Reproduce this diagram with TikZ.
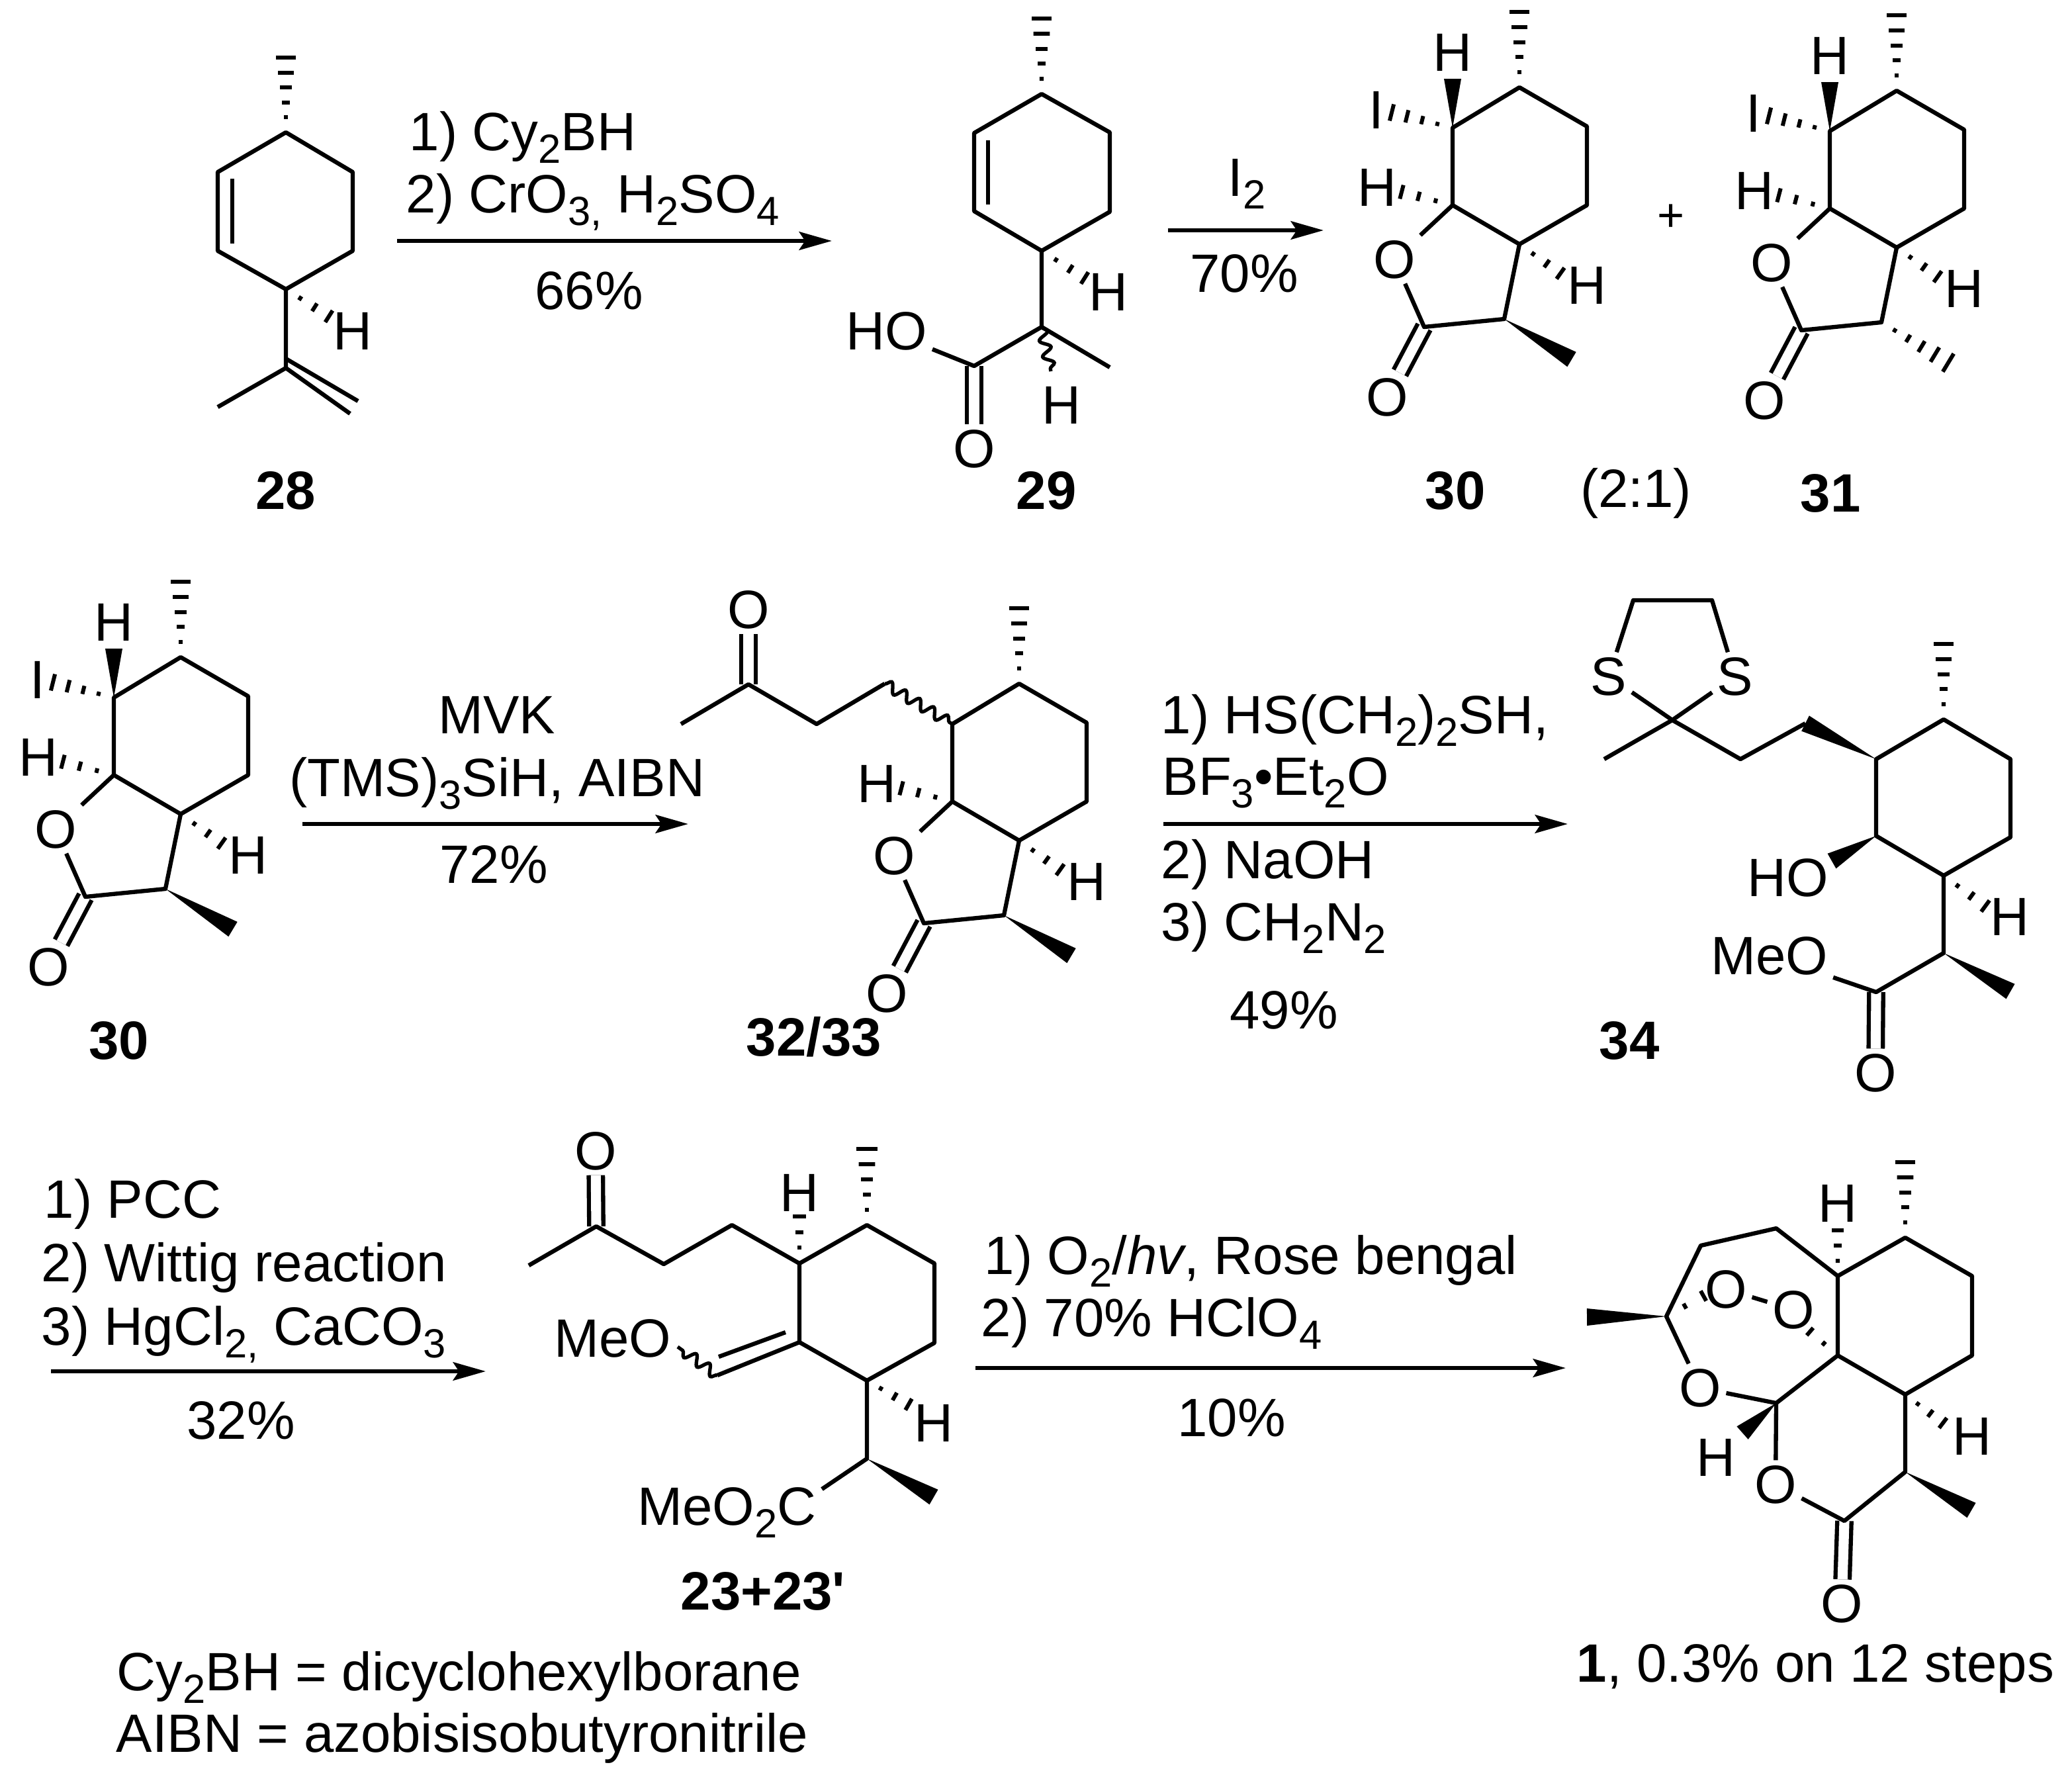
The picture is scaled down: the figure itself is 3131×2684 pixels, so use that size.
\documentclass[tikz,border=0pt]{standalone}
\usepackage{fontspec}
\setmainfont{Liberation Sans}
\usetikzlibrary{calc,arrows.meta,decorations.pathmorphing}
\newcommand{\chemsub}[1]{\raisebox{-5.5pt}{\fontsize{17.5}{17.5}\selectfont #1}}
\newcommand{\hashbond}[3]{\foreach \k in {1,...,#3}{\pgfmathsetmacro{\hf}{\k/#3}
    \draw[hashline] ($(#1)!\hf!(#2)!0.135!90:(#1)$) -- ($(#1)!\hf!(#2)!0.135!-90:(#1)$);}}
\newcommand{\wedgebond}[2]{\fill (#1) -- ($(#2)!3.7pt!90:(#1)$) -- ($(#2)!3.7pt!-90:(#1)$) -- cycle;}
\begin{document}
\begin{tikzpicture}[
    x=0.01cm, y=-0.01cm,
    every node/.style={inner sep=0pt, font=\fontsize{23.2}{27}\selectfont},
    bond/.style={line width=1.8pt, line join=round},
    dbl/.style={bond, double, double distance=4.3pt},
    wavy/.style={line width=1.5pt, decorate, decoration={snake, amplitude=2.2pt, segment length=7pt}},
    hashline/.style={line width=1.7pt},
    rxn/.style={line width=1.9pt, -{Stealth[length=14pt, width=7.8pt, inset=2.5pt]}},
    atom/.style={inner sep=2pt},
    txt/.style={anchor=base west},
    mid/.style={anchor=base},
    cmpd/.style={font=\fontsize{23.2}{27}\selectfont\bfseries}
]
    \useasboundingbox (0,0) rectangle (3131,2684);

    % Arrows
    \foreach \n/\xa/\ya/\xb/\yb in {r1/600/364/1257/364, r2/1765/348/2000/348, r3/457/1245/1040/1245,
        r4/1758/1245/2369/1245, r5/77/2072/734/2072, r6/1474/2067/2366/2067}{
        \coordinate (\n s) at (\xa,\ya);
        \coordinate (\n e) at (\xb,\yb);
        \draw[rxn] (\n s) -- (\n e);
    }

    % Conditions, first row
    \node[txt] (c1a) at (618,227) {1) Cy\chemsub{2}BH};
    \node[txt] (c1b) at (613,321) {2) CrO\chemsub{3,} H\chemsub{2}SO\chemsub{4}};
    \node[mid] (c1c) at (890,467) {66\%};
    \node[txt] (c2a) at (1855,296) {I\chemsub{2}};
    \node[mid] (c2b) at (1880,441) {70\%};

    % Conditions, second row
    \node[mid] (c3a) at (751,1108) {MVK};
    \node[mid] (c3b) at (751,1203) {(TMS)\chemsub{3}SiH, AIBN};
    \node[mid] (c3c) at (746,1334) {72\%};
    \node[txt] (c4a) at (1754,1108) {1) HS(CH\chemsub{2})\chemsub{2}SH,};
    \node[txt] (c4b) at (1756,1201) {BF\chemsub{3}•Et\chemsub{2}O};
    \node[txt] (c4c) at (1754,1327) {2) NaOH};
    \node[txt] (c4d) at (1754,1421) {3) CH\chemsub{2}N\chemsub{2}};
    \node[mid] (c4e) at (1940,1554) {49\%};

    % Conditions, third row
    \node[txt] (c5a) at (66,1840) {1) PCC};
    \node[txt] (c5b) at (62,1936) {2) Wittig reaction};
    \node[txt] (c5c) at (62,2032) {3) HgCl\chemsub{2,} CaCO\chemsub{3}};
    \node[mid] (c5d) at (364,2174) {32\%};
    \node[txt] (c6a) at (1487,1925) {1) O\chemsub{2}/\textit{hv}, Rose bengal};
    \node[txt] (c6b) at (1482,2019) {2) 70\% HClO\chemsub{4}};
    \node[mid] (c6c) at (1861,2170) {10\%};

    % Compound labels
    \node[cmpd] (n28) at (432,741) {28};
    \node[cmpd] (n29) at (1581,741) {29};
    \node[cmpd] (n30) at (2199,741) {30};
    \node (ratio) at (2472,745) {(2:1)};
    \node[font=\fontsize{20}{24}\selectfont] (plus) at (2525,329) {+};
    \node[cmpd] (n31) at (2766,745) {31};
    \node[cmpd] (n30b) at (180,1572) {30};
    \node[cmpd] (n32) at (1230,1567) {32/33};
    \node[cmpd] (n34) at (2462,1572) {34};
    \node[cmpd, anchor=base] (n23) at (1153,2432) {23+23\textquotesingle};
    \node[txt] (n1) at (2382,2541) {\textbf{1}, 0.3\% on 12 steps};
    \node[txt] (def1) at (176,2554) {Cy\chemsub{2}BH = dicyclohexylborane};
    \node[txt] (def2) at (175,2647) {AIBN = azobisisobutyronitrile};

    % Compound 28
    \foreach \n/\x/\y in {k1/432/200, k2/533/260, k3/533/379, k4/432/437, k5/329/379, k6/329/260,
        k7/432/87, k8/497/478, k9/432/556, k10/329/615, k11/529/625, k12/432/542, k13/541/606,
        k14/351/270, k15/351/368}
        \coordinate (\n) at (\x,\y);
    \draw[bond] (k1) -- (k2) -- (k3) -- (k4) -- (k5) -- (k6) -- cycle;
    \draw[bond] (k14) -- (k15);
    \draw[bond] (k4) -- (k9) -- (k10);
    \draw[bond] (k9) -- (k11);
    \draw[bond] (k12) -- (k13);
    \hashbond{k1}{k7}{5}
    \hashbond{k4}{k8}{3}
    \node (k16) at (533,500) {H};

    % Compound 29
    \foreach \n/\x/\y in {l1/1574/142, l2/1677/200, l3/1677/320, l4/1574/379, l5/1472/319, l6/1472/201,
        l7/1574/28, l8/1639/420, l9/1574/494, l10/1677/555, l11/1472/553, l12/1588/561,
        l13/1493/212, l14/1493/309}
        \coordinate (\n) at (\x,\y);
    \node[atom] (l15) at (1675,441) {H};
    \node[atom] (l16) at (1604,612) {H};
    \node[atom] (l17) at (1340,500) {HO};
    \node[atom] (l18) at (1472,678) {O};
    \draw[dbl] (l11) -- (l18);
    \draw[bond] (l1) -- (l2) -- (l3) -- (l4) -- (l5) -- (l6) -- cycle;
    \draw[bond] (l13) -- (l14);
    \draw[bond] (l4) -- (l9) -- (l10);
    \draw[bond] (l9) -- (l11) -- (l17);
    \draw[wavy] (l9) -- (l12);
    \hashbond{l1}{l7}{5}
    \hashbond{l4}{l8}{3}

    % Lactone core of 30, 31, 30 again and 32/33
    \foreach \m/\dx/\dy in {a/0/0, b/570/5, c/-2023/861, d/-756/901}{
    \begin{scope}[shift={(\dx,\dy)}, name prefix=\m-]
        \foreach \n/\x/\y in {r1/2296/132, r2/2398/191, r3/2398/310, r4/2296/369, r5/2195/310, r6/2195/193,
            r7/2296/18, r8/2118/290, r9/2358/413, r10/2152/494, r11/2273/482}
            \coordinate (\n) at (\x,\y);
        \node[atom] (o1) at (2107,392) {O};
        \node[atom] (o2) at (2096,600) {O};
        \node (h1) at (2081,283) {H};
        \node (h2) at (2398,431) {H};
        \draw[dbl] (r10) -- (o2);
        \draw[bond] (r1) -- (r2) -- (r3) -- (r4) -- (r5) -- (r6) -- cycle;
        \draw[bond] (r5) -- (o1) -- (r10) -- (r11) -- (r4);
        \hashbond{r1}{r7}{5}
        \hashbond{r5}{r8}{3}
        \hashbond{r4}{r9}{3}
    \end{scope}
    }

    % I and H on top of 30, 31 and 30 again
    \foreach \m/\dx/\dy in {a/0/0, b/570/5, c/-2023/861}{
    \begin{scope}[shift={(\dx,\dy)}, name prefix=\m-]
        \coordinate (r12) at (2195,119);
        \coordinate (r13) at (2103,170);
        \node (h3) at (2195,79) {H};
        \node (i1) at (2080,166) {I};
        \wedgebond{r6}{r12}
        \hashbond{r6}{r13}{4}
    \end{scope}
    }

    % Methyl groups of the lactones
    \coordinate (a-r14) at (2375,543);
    \coordinate (b-r14) at (2944,548);
    \coordinate (c-r14) at (352,1404);
    \coordinate (d-r14) at (1619,1444);
    \wedgebond{a-r11}{a-r14}
    \hashbond{b-r11}{b-r14}{5}
    \wedgebond{c-r11}{c-r14}
    \wedgebond{d-r11}{d-r14}

    % Side chain of 32/33
    \foreach \n/\x/\y in {d1/1337/1033, d2/1234/1094, d3/1131/1034, d4/1029/1094}
        \coordinate (\n) at (\x,\y);
    \node[atom] (d5) at (1131,921) {O};
    \draw[dbl] (d3) -- (d5);
    \draw[bond] (d4) -- (d3) -- (d2) -- (d1);
    \draw[wavy] (d1) -- (d-r6);

    % Compound 34
    \foreach \n/\x/\y in {s1/2937/1087, s2/3038/1147, s3/3038/1265, s4/2937/1323, s5/2835/1263, s6/2835/1147,
        s7/2937/973, s8/2728/1093, s9/2630/1147, s10/2527/1088, s11/2424/1147, s12/2468/907, s13/2587/907,
        s14/2768/1301, s15/3000/1369, s16/2937/1440, s17/3038/1498, s18/2835/1499}
        \coordinate (\n) at (\x,\y);
    \node[atom] (s19) at (2431,1022) {S};
    \node[atom] (s20) at (2622,1022) {S};
    \node (s21) at (2702,1326) {HO};
    \node (s22) at (3037,1385) {H};
    \node[atom] (s23) at (2674,1444) {MeO};
    \node[atom] (s24) at (2834,1621) {O};
    \draw[dbl] (s18) -- (s24);
    \draw[bond] (s1) -- (s2) -- (s3) -- (s4) -- (s5) -- (s6) -- cycle;
    \draw[bond] (s8) -- (s9) -- (s10) -- (s11);
    \draw[bond] (s10) -- (s19) -- (s12) -- (s13) -- (s20) -- (s10);
    \draw[bond] (s4) -- (s16) -- (s18) -- (s23);
    \hashbond{s1}{s7}{5}
    \hashbond{s4}{s15}{3}
    \wedgebond{s6}{s8}
    \wedgebond{s5}{s14}
    \wedgebond{s16}{s17}

    % Compound 23
    \foreach \n/\x/\y in {v1/1310/1851, v2/1412/1909, v3/1412/2029, v4/1310/2086, v5/1208/2028, v6/1208/1909,
        v7/1310/1736, v8/1208/1838, v9/1106/1851, v10/1003/1910, v11/901/1853, v12/799/1912,
        v13/1084/2078, v14/1187/2013, v15/1086/2050, v16/1024/2035, v17/1373/2122, v18/1310/2204,
        v19/1411/2262}
        \coordinate (\n) at (\x,\y);
    \node (v20) at (1208,1802) {H};
    \node[atom] (v21) at (900,1739) {O};
    \node (v22) at (926,2022) {MeO};
    \node (v23) at (1411,2150) {H};
    \node[anchor=base east, inner sep=0pt] (v24) at (1234,2304) {MeO\chemsub{2}C};
    \coordinate (v25) at (1242,2250);
    \draw[dbl] (v11) -- (v21);
    \draw[bond] (v1) -- (v2) -- (v3) -- (v4) -- (v5) -- (v6) -- cycle;
    \draw[bond] (v6) -- (v9) -- (v10) -- (v11) -- (v12);
    \draw[bond] (v5) -- (v13);
    \draw[bond] (v14) -- (v15);
    \draw[wavy] (v13) -- (v16);
    \draw[bond] (v4) -- (v18) -- (v25);
    \hashbond{v1}{v7}{5}
    \hashbond{v6}{v8}{3}
    \hashbond{v4}{v17}{3}
    \wedgebond{v18}{v19}

    % Compound 1
    \foreach \n/\x/\y in {w1/2879/1870, w2/2980/1928, w3/2980/2048, w4/2879/2107, w5/2777/2048, w6/2777/1928,
        w7/2879/1756, w8/2777/1859, w9/2684/1856, w10/2570/1882, w11/2518/1989, w12/2398/1990,
        w13/2684/2120, w14/2633/2165, w15/2787/2298, w16/2879/2224, w17/2979/2282, w18/2936/2150,
        w19/2574/1958, w20/2735/2012}
        \coordinate (\n) at (\x,\y);
    \node (w21) at (2777,1818) {H};
    \node[atom] (w22) at (2608,1948) {O};
    \node[atom] (w23) at (2710,1979) {O};
    \node[atom] (w24) at (2569,2097) {O};
    \node (w25) at (2593,2202) {H};
    \node[atom] (w26) at (2683,2243) {O};
    \node (w27) at (2980,2170) {H};
    \node[atom] (w28) at (2783,2423) {O};
    \draw[dbl] (w15) -- (w28);
    \draw[bond] (w1) -- (w2) -- (w3) -- (w4) -- (w5) -- (w6) -- cycle;
    \draw[bond] (w6) -- (w9) -- (w10) -- (w11) -- (w24) -- (w13) -- (w5);
    \draw[bond] (w13) -- (w26) -- (w15) -- (w16) -- (w4);
    \draw[bond] (w22) -- (w23);
    \hashbond{w1}{w7}{5}
    \hashbond{w6}{w8}{3}
    \hashbond{w11}{w19}{2}
    \hashbond{w5}{w20}{2}
    \hashbond{w4}{w18}{3}
    \wedgebond{w11}{w12}
    \wedgebond{w13}{w14}
    \wedgebond{w16}{w17}
\end{tikzpicture}
\end{document}
